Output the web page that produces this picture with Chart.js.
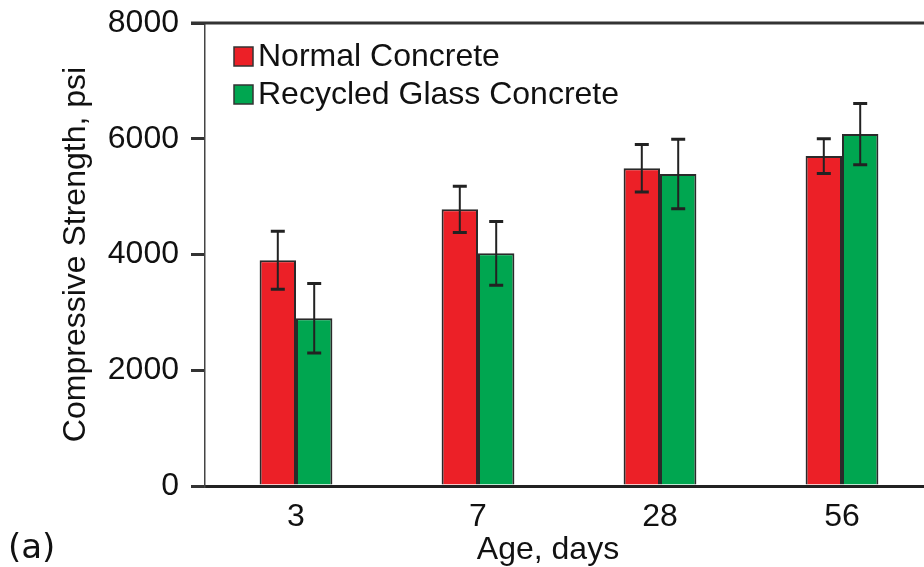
<!DOCTYPE html>
<html>
<head>
<meta charset="utf-8">
<script src="https://cdn.jsdelivr.net/npm/chart.js@4"></script>
<style>
    html, body { margin: 0; padding: 0; background: #fff; overflow: hidden; }
    #chartCanvas { display: block; }
</style>
</head>
<body>
<canvas id="chartCanvas" width="933" height="567"></canvas>
<script>
const ages = ['3', '7', '28', '56'];
const normalStrength = [3900, 4780, 5490, 5700];
const normalError = [500, 400, 410, 300];
const glassStrength = [2900, 4020, 5390, 6080];
const glassError = [600, 550, 600, 530];
const yTicks = [0, 2000, 4000, 6000, 8000];

const FONT = "'Liberation Sans', Arial, sans-serif";
const SIZE = 32;

// error bars on top of each bar
const errorBars = {
    id: 'errorBars',
    afterDatasetsDraw(chart) {
        const ctx = chart.ctx;
        const y = chart.scales.y;
        chart.data.datasets.forEach((ds, i) => {
            const meta = chart.getDatasetMeta(i);
            meta.data.forEach((bar, j) => {
                const v = ds.data[j];
                const e = ds.errors[j];
                const top = y.getPixelForValue(v + e);
                const bot = y.getPixelForValue(v - e);
                ctx.save();
                ctx.strokeStyle = '#222';
                ctx.lineWidth = 2;
                ctx.beginPath();
                ctx.moveTo(bar.x, top);
                ctx.lineTo(bar.x, bot);
                ctx.stroke();
                ctx.lineWidth = 3;
                ctx.beginPath();
                ctx.moveTo(bar.x - 7, top);
                ctx.lineTo(bar.x + 7, top);
                ctx.moveTo(bar.x - 7, bot);
                ctx.lineTo(bar.x + 7, bot);
                ctx.stroke();
                ctx.restore();
            });
        });
    }
};

// top frame line, legend inside the plot, x title and panel label
const decorations = {
    id: 'decorations',
    afterDraw(chart) {
        const ctx = chart.ctx;
        const area = chart.chartArea;
        ctx.save();
        ctx.strokeStyle = '#333';
        ctx.lineWidth = 3;
        ctx.beginPath();
        ctx.moveTo(area.left - 14, area.top);
        ctx.lineTo(chart.width, area.top);
        ctx.stroke();

        ctx.font = SIZE + 'px ' + FONT;
        ctx.textBaseline = 'middle';
        chart.data.datasets.forEach((ds, i) => {
            const by = 47 + i * 38;
            ctx.fillStyle = ds.backgroundColor;
            ctx.fillRect(234, by, 19, 19);
            ctx.strokeStyle = '#333';
            ctx.lineWidth = 1.5;
            ctx.strokeRect(234, by, 19, 19);
            ctx.fillStyle = '#111';
            ctx.fillText(ds.label, 258, by + 10);
        });

        ctx.textAlign = 'center';
        ctx.textBaseline = 'alphabetic';
        ctx.fillText('Age, days', 548, 559);
        ctx.textAlign = 'left';
        ctx.font = "34px 'DejaVu Sans', sans-serif";
        ctx.fillText('(a)', 8, 558);
        ctx.restore();
    }
};

const ctx = document.getElementById('chartCanvas').getContext('2d');
const chart = new Chart(ctx, {
    type: 'bar',
    data: {
        labels: ages,
        datasets: [{
            label: 'Normal Concrete',
            data: normalStrength,
            errors: normalError,
            backgroundColor: '#ec2027',
            borderColor: '#2a2a2a',
            borderWidth: 2,
            categoryPercentage: 0.4,
            barPercentage: 1.0
        }, {
            label: 'Recycled Glass Concrete',
            data: glassStrength,
            errors: glassError,
            backgroundColor: '#00a650',
            borderColor: '#2a2a2a',
            borderWidth: 2,
            categoryPercentage: 0.4,
            barPercentage: 1.0
        }]
    },
    options: {
        responsive: false,
        animation: false,
        layout: {
            padding: { top: 23, left: 0, right: 0, bottom: 0 }
        },
        scales: {
            x: {
                grid: { display: true, drawOnChartArea: false, drawTicks: false },
                border: { display: true, color: '#222', width: 3 },
                ticks: {
                    color: '#111',
                    padding: 12,
                    font: { family: FONT, size: SIZE }
                },
                afterFit(scale) {
                    scale.height = 81;
                    scale.paddingLeft = 0;
                    scale.paddingRight = 0;
                }
            },
            y: {
                min: 0,
                max: 8000,
                afterBuildTicks(scale) {
                    scale.ticks = yTicks.map(v => ({ value: v }));
                },
                grid: {
                    drawOnChartArea: false,
                    drawTicks: true,
                    tickLength: 14,
                    lineWidth: 3,
                    color: '#333'
                },
                border: { display: true, color: '#444', width: 1.5 },
                ticks: {
                    color: '#111',
                    padding: 12,
                    font: { family: FONT, size: SIZE },
                    callback: v => String(v)
                },
                title: {
                    display: true,
                    text: 'Compressive Strength, psi',
                    color: '#111',
                    padding: { top: 57, bottom: 0 },
                    font: { family: FONT, size: SIZE }
                },
                afterFit(scale) {
                    scale.width = 205;
                    scale.paddingTop = 0;
                    scale.paddingBottom = 0;
                }
            }
        },
        plugins: {
            legend: { display: false },
            tooltip: { enabled: false }
        }
    },
    plugins: [errorBars, decorations]
});
</script>
</body>
</html>
